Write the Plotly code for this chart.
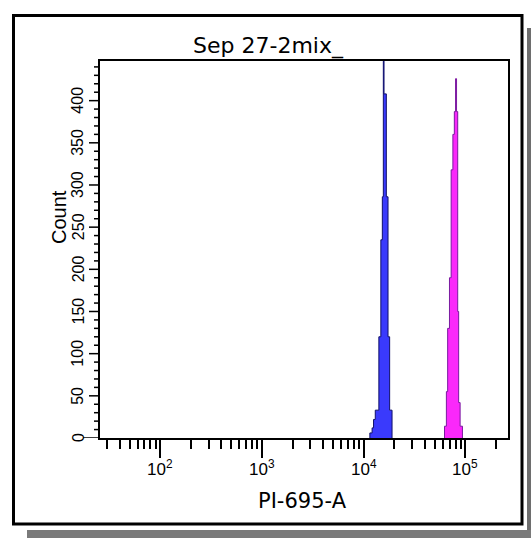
import plotly.graph_objects as go
import numpy as np

# ---------------- data ----------------
title_text = "Sep 27-2mix_"
x_title = "PI-695-A"
y_title = "Count"

# blue population: bin edges (PI-695-A) and counts
blue_edges = [11500, 12100, 12500, 13000, 14100, 14750, 15250, 15600, 15850, 16700, 17350, 18000, 19000]
blue_counts = [6, 12, 22, 33, 120, 235, 286, 520, 408, 286, 120, 33]

# magenta population
mag_edges = [62300, 65000, 66900, 69700, 72400, 75300, 77800, 80000, 81800, 84000, 85800, 88700, 93500]
mag_counts = [14, 55, 130, 190, 318, 360, 387, 426, 387, 150, 42, 14]

x_major_vals = [100, 1000, 10000, 100000]
x_major_text = ["10<sup>2</sup>", "10<sup>3</sup>", "10<sup>4</sup>", "10<sup>5</sup>"]
x_min, x_max = 25.6, 262144
y_major_vals = [0, 50, 100, 150, 200, 250, 300, 350, 400]
y_max = 447

# ---------------- layout constants ----------------
W, H = 531, 538
L, R, T, B = 100, 508, 61, 438  # plot area in pixels
PW, PH = R - L, B - T


def px(x):
    return (x - L) / PW


def py(y):
    return (B - y) / PH


def step_xy(edges, counts):
    xs = [edges[0]] + list(edges)
    ys = [0] + list(counts) + [0]
    return xs, ys


fig = go.Figure()
bx, by = step_xy(blue_edges, blue_counts)
fig.add_trace(go.Scatter(x=bx, y=by, mode="lines", line=dict(shape="hv", color="#10106a", width=1),
                         fill="tozeroy", fillcolor="rgb(58,58,252)", showlegend=False))
mx, my = step_xy(mag_edges, mag_counts)
fig.add_trace(go.Scatter(x=mx, y=my, mode="lines", line=dict(shape="hv", color="#7a1aa0", width=1),
                         fill="tozeroy", fillcolor="rgb(250,40,250)", showlegend=False))

minor_x = []
for e in range(1, 6):
    for k in range(2, 10):
        v = k * 10 ** e
        if x_min <= v <= x_max:
            minor_x.append(v)
minor_y = [v for v in range(0, 450, 10) if v % 50 != 0]

font = "Arial"
wide = "DejaVu Sans"

fig.update_layout(
    width=W, height=H,
    margin=dict(l=L, r=W - R, t=T, b=H - B),
    paper_bgcolor="white", plot_bgcolor="white",
    showlegend=False,
    xaxis=dict(type="log", range=[np.log10(x_min), np.log10(x_max)],
               tickmode="array", tickvals=x_major_vals, showticklabels=False,
               ticks="outside", ticklen=18, tickwidth=1.5, tickcolor="black",
               minor=dict(tickmode="array", tickvals=minor_x, ticks="outside", ticklen=9,
                          tickwidth=1.5, tickcolor="black", showgrid=False),
               showline=True, linecolor="black", linewidth=1.5, mirror=True,
               showgrid=False, zeroline=False),
    yaxis=dict(range=[0, y_max], showticklabels=False, ticks="",
               showline=True, linecolor="black", linewidth=1.5, mirror=True,
               showgrid=False, zeroline=False),
)

shapes = [
    # shadow
    dict(type="rect", xref="paper", yref="paper", x0=px(527), x1=px(531), y0=py(28), y1=py(538),
         fillcolor="#6e6e6e", line=dict(width=0), layer="below"),
    dict(type="rect", xref="paper", yref="paper", x0=px(27), x1=px(531), y0=py(530), y1=py(538),
         fillcolor="#7a7a7a", line=dict(width=0), layer="below"),
    # outer frame
    dict(type="rect", xref="paper", yref="paper", x0=px(13.5), x1=px(522), y0=py(15.5), y1=py(524),
         line=dict(color="black", width=3), fillcolor="rgba(0,0,0,0)"),
]
tick_line = dict(color="black", width=1.5)
for v in y_major_vals:
    shapes.append(dict(type="line", xref="paper", yref="y", x0=0, x1=-(17 if v == 0 else 11) / PW,
                       y0=v, y1=v, line=tick_line))
for v in minor_y:
    shapes.append(dict(type="line", xref="paper", yref="y", x0=0, x1=-6 / PW,
                       y0=v, y1=v, line=tick_line))
fig.update_layout(shapes=shapes)

for v, t in zip(x_major_vals, x_major_text):
    fig.add_annotation(text=t, xref="x", yref="paper", x=np.log10(v), y=py(468),
                       showarrow=False, xanchor="center", yanchor="middle",
                       font=dict(family=font, size=17, color="black"))
for v in y_major_vals:
    fig.add_annotation(text=str(v), xref="paper", yref="y", x=px(78), y=v,
                       showarrow=False, xanchor="center", yanchor="middle", textangle=-90,
                       font=dict(family=font, size=16, color="black"))

fig.add_annotation(text=title_text, xref="paper", yref="paper", x=px(268), y=py(46),
                   showarrow=False, xanchor="center", yanchor="middle",
                   font=dict(family=wide, size=22, color="black"))
fig.add_annotation(text=x_title, xref="paper", yref="paper", x=px(302), y=py(501),
                   showarrow=False, xanchor="center", yanchor="middle",
                   font=dict(family=wide, size=21, color="black"))
fig.add_annotation(text=y_title, xref="paper", yref="paper", x=px(59), y=py(217),
                   showarrow=False, xanchor="center", yanchor="middle", textangle=-90,
                   font=dict(family=font, size=20, color="black"))

fig.write_html("out.html")
